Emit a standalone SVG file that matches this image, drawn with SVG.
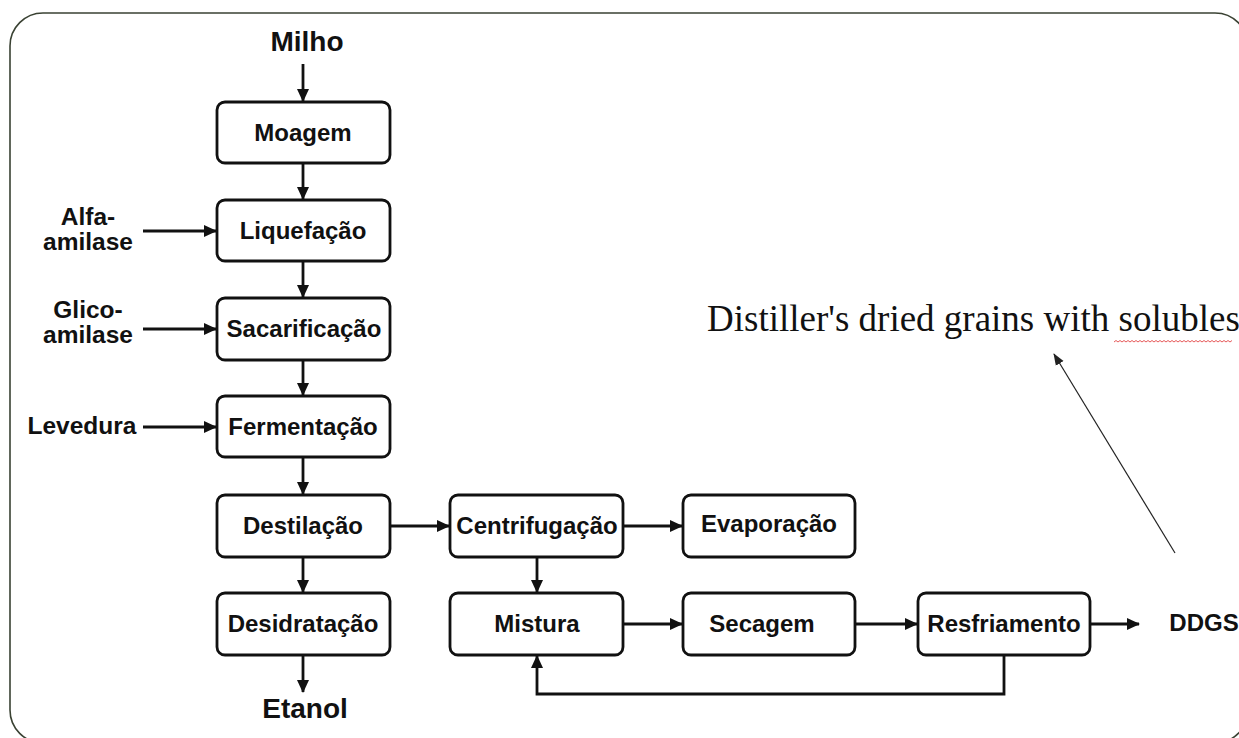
<svg xmlns="http://www.w3.org/2000/svg" width="1239" height="738" viewBox="0 0 1239 738">
<defs>
<style>
.box{fill:#fff;stroke:#111;stroke-width:2.8}
.t{font-family:"Liberation Sans",Arial,sans-serif;font-weight:bold;font-size:24px;fill:#111;text-anchor:middle}
.big{font-size:28px}
.lbl{font-size:24.5px}
.c{fill:none;stroke:#111;stroke-width:2.8}
</style>
<marker id="ah" markerWidth="13" markerHeight="13" refX="12" refY="6.5" orient="auto" markerUnits="userSpaceOnUse">
<path d="M0,0.5 L13,6.5 L0,12.5 Z" fill="#111"/>
</marker>
<marker id="ah2" markerWidth="12" markerHeight="12" refX="11" refY="5" orient="auto" markerUnits="userSpaceOnUse">
<path d="M0,0.5 L12,5 L0,9.5 Z" fill="#222"/>
</marker>
</defs>
<rect width="1239" height="738" fill="#fff"/>
<rect x="10" y="13" width="1238" height="730" rx="33" fill="none" stroke="#3a4233" stroke-width="1.6"/>

<g id="connectors">
<line class="c" x1="303" y1="64" x2="303" y2="101" marker-end="url(#ah)"/>
<line class="c" x1="303" y1="163" x2="303" y2="199" marker-end="url(#ah)"/>
<line class="c" x1="303" y1="261" x2="303" y2="297" marker-end="url(#ah)"/>
<line class="c" x1="303" y1="360" x2="303" y2="395" marker-end="url(#ah)"/>
<line class="c" x1="303" y1="457" x2="303" y2="494" marker-end="url(#ah)"/>
<line class="c" x1="303" y1="557" x2="303" y2="592" marker-end="url(#ah)"/>
<line class="c" x1="303" y1="655" x2="303" y2="692" marker-end="url(#ah)"/>
<line class="c" x1="143" y1="231" x2="216" y2="231" marker-end="url(#ah)"/>
<line class="c" x1="143" y1="329" x2="216" y2="329" marker-end="url(#ah)"/>
<line class="c" x1="143" y1="427" x2="216" y2="427" marker-end="url(#ah)"/>
<line class="c" x1="390" y1="526" x2="449" y2="526" marker-end="url(#ah)"/>
<line class="c" x1="623" y1="526" x2="682" y2="526" marker-end="url(#ah)"/>
<line class="c" x1="537" y1="557" x2="537" y2="592" marker-end="url(#ah)"/>
<line class="c" x1="623" y1="624" x2="682" y2="624" marker-end="url(#ah)"/>
<line class="c" x1="855" y1="624" x2="917" y2="624" marker-end="url(#ah)"/>
<line class="c" x1="1090" y1="624" x2="1139" y2="624" marker-end="url(#ah)"/>
<path class="c" d="M1004,655 V694 H537 V656" marker-end="url(#ah)"/>
<line x1="1175" y1="553" x2="1054" y2="354" stroke="#222" stroke-width="1.2" marker-end="url(#ah2)"/>
</g>

<g id="milho"><text class="t big" x="307" y="51">Milho</text></g>
<g id="moagem"><rect class="box" x="217" y="102" width="173" height="61" rx="8"/><text class="t" x="303" y="141">Moagem</text></g>
<g id="liquefacao"><rect class="box" x="217" y="200" width="173" height="61" rx="8"/><text class="t" x="303" y="239">Liquefação</text></g>
<g id="sacarificacao"><rect class="box" x="217" y="298" width="173" height="62" rx="8"/><text class="t" x="304" y="337">Sacarificação</text></g>
<g id="fermentacao"><rect class="box" x="217" y="396" width="173" height="61" rx="8"/><text class="t" x="303" y="435">Fermentação</text></g>
<g id="destilacao"><rect class="box" x="217" y="495" width="173" height="62" rx="8"/><text class="t" x="303" y="534">Destilação</text></g>
<g id="desidratacao"><rect class="box" x="217" y="593" width="173" height="62" rx="8"/><text class="t" x="303" y="632">Desidratação</text></g>
<g id="etanol"><text class="t big" x="305" y="718">Etanol</text></g>
<g id="alfa"><text class="t lbl" x="88" y="225">Alfa-</text><text class="t lbl" x="88" y="250">amilase</text></g>
<g id="glico"><text class="t lbl" x="88" y="318">Glico-</text><text class="t lbl" x="88" y="343">amilase</text></g>
<g id="levedura"><text class="t lbl" x="82" y="434">Levedura</text></g>
<g id="centrifugacao"><rect class="box" x="450" y="495" width="173" height="62" rx="8"/><text class="t" x="537" y="534">Centrifugação</text></g>
<g id="evaporacao"><rect class="box" x="683" y="495" width="172" height="62" rx="8"/><text class="t" x="769" y="532">Evaporação</text></g>
<g id="mistura"><rect class="box" x="450" y="593" width="173" height="62" rx="8"/><text class="t" x="537" y="632">Mistura</text></g>
<g id="secagem"><rect class="box" x="683" y="593" width="172" height="62" rx="8"/><text class="t" x="762" y="632">Secagem</text></g>
<g id="resfriamento"><rect class="box" x="918" y="593" width="172" height="62" rx="8"/><text class="t" x="1004" y="632">Resfriamento</text></g>
<g id="ddgs"><text class="t" x="1204" y="631" font-size="23">DDGS</text></g>
<g id="note">
<text x="707" y="331" font-family="'Liberation Serif','Times New Roman',serif" font-size="37" fill="#111">Distiller's dried grains with solubles</text>
<path d="M1114,342 l2,-1.5 l2,1.5 l2,-1.5 l2,1.5 l2,-1.5 l2,1.5 l2,-1.5 l2,1.5 l2,-1.5 l2,1.5 l2,-1.5 l2,1.5 l2,-1.5 l2,1.5 l2,-1.5 l2,1.5 l2,-1.5 l2,1.5 l2,-1.5 l2,1.5 l2,-1.5 l2,1.5 l2,-1.5 l2,1.5 l2,-1.5 l2,1.5 l2,-1.5 l2,1.5 l2,-1.5 l2,1.5 l2,-1.5 l2,1.5 l2,-1.5 l2,1.5 l2,-1.5 l2,1.5 l2,-1.5 l2,1.5 l2,-1.5 l2,1.5 l2,-1.5 l2,1.5 l2,-1.5 l2,1.5 l2,-1.5 l2,1.5 l2,-1.5 l2,1.5 l2,-1.5 l2,1.5 l2,-1.5 l2,1.5 l2,-1.5 l2,1.5 l2,-1.5 l2,1.5 l2,-1.5 l2,1.5 l2,-1.5" fill="none" stroke="#e03030" stroke-width="0.8"/>
</g>
</svg>
